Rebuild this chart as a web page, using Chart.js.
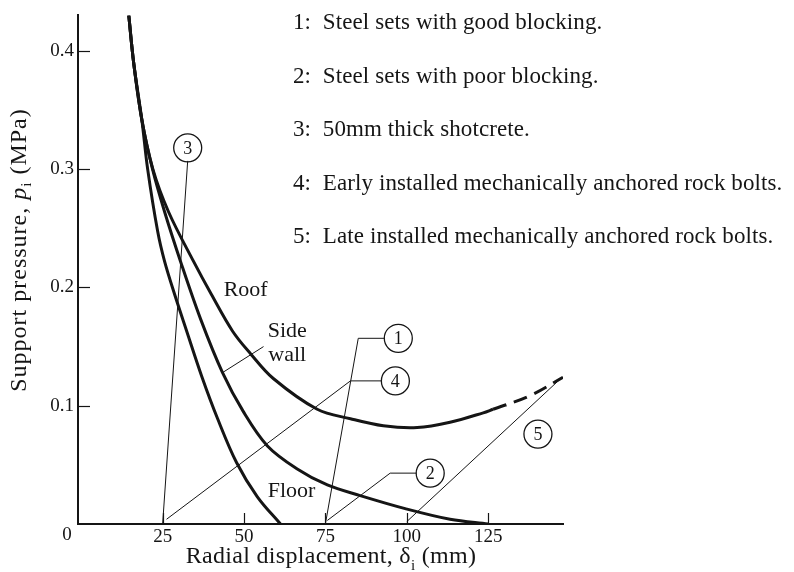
<!DOCTYPE html>
<html>
<head>
<meta charset="utf-8">
<title>Support pressure vs radial displacement</title>
<script src="https://cdn.jsdelivr.net/npm/chart.js@4.4.1/dist/chart.umd.min.js"></script>
<style>
  html, body { margin: 0; padding: 0; background: #fff; }
  #chart { display: block; }
</style>
</head>
<body>
<canvas id="chart" width="794" height="572"></canvas>
<script>
// Ground reaction curves: radial displacement (mm) -> support pressure (MPa)
const roofX = [14.6, 16.1, 18.6, 22.0, 26.8, 34.5, 40.0, 46.5, 52.0, 59.0, 72.5, 82.7, 92.8, 103.2, 113.3, 123.5, 126.5];
const roofY = [0.430, 0.390, 0.342, 0.300, 0.264, 0.222, 0.194, 0.163, 0.144, 0.123, 0.097, 0.089, 0.083, 0.0815, 0.086, 0.094, 0.097];
// extrapolated part of the roof curve (dashed)
const roofExtX = [126.5, 137.5, 148];
const roofExtY = [0.097, 0.108, 0.124];

const sideX = [14.6, 16.1, 18.6, 21.9, 25.6, 30.5, 36.7, 43.4, 49.8, 57.2, 66.1, 75.6, 85.7, 99.5, 113.3, 125.0];
const sideY = [0.430, 0.390, 0.342, 0.300, 0.264, 0.222, 0.173, 0.128, 0.095, 0.066, 0.047, 0.033, 0.024, 0.013, 0.004, 0];

const floorX = [14.6, 16.1, 18.6, 20.4, 23.5, 25.6, 28.7, 32.4, 37.0, 41.9, 47.7, 54.1, 61.2];
const floorY = [0.430, 0.390, 0.342, 0.300, 0.247, 0.222, 0.194, 0.163, 0.125, 0.089, 0.052, 0.023, 0];

// support reaction lines and their leaders to the numbered circles
const support1X = [75, 85.1, 93.1];
const support1Y = [0, 0.157, 0.157];
const support2X = [75.6, 94.9, 102.9];
const support2Y = [0.003, 0.043, 0.043];
const support3X = [25, 32.7];
const support3Y = [0, 0.307];
const support4X = [26.2, 82.7, 92.2];
const support4Y = [0.004, 0.121, 0.121];
const support5X = [100, 147.7];
const support5Y = [0.002, 0.124];

// leader from "Side wall" label to its curve
const sideLeaderX = [56.0, 43.4];
const sideLeaderY = [0.150, 0.128];

const circleLabels = ['1', '2', '3', '4', '5'];
const circleX = [97.4, 107.2, 32.7, 96.5, 140.3];
const circleY = [0.157, 0.043, 0.318, 0.121, 0.076];

const curveLabels = ['Roof', 'Side', 'wall', 'Floor'];
const curveLabelX = [50.5, 63.3, 63.3, 64.6];
const curveLabelY = [0.198, 0.163, 0.143, 0.028];

const xTicks = [25, 50, 75, 100, 125];
const yTicks = [0.1, 0.2, 0.3, 0.4];

const keyLines = [
  '1:  Steel sets with good blocking.',
  '2:  Steel sets with poor blocking.',
  '3:  50mm thick shotcrete.',
  '4:  Early installed mechanically anchored rock bolts.',
  '5:  Late installed mechanically anchored rock bolts.'
];

const ink = '#151515';
const serif = '"Liberation Serif", "DejaVu Serif", serif';

function pts(xs, ys) {
  return xs.map((x, i) => ({ x: x, y: ys[i] }));
}

const curve = { borderColor: ink, borderWidth: 3, pointRadius: 0, showLine: true, tension: 0.35, fill: false };
const thin = { borderColor: ink, borderWidth: 1, pointRadius: 0, showLine: true, tension: 0, fill: false };

// draw a string made of parts (normal / italic / subscript) starting at x
function drawParts(ctx, parts, size, x, y) {
  parts.forEach(p => {
    const fs = p.sub ? Math.round(size * 0.62) : size;
    ctx.font = (p.italic ? 'italic ' : '') + fs + 'px ' + serif;
    ctx.fillText(p.t, x, y + (p.sub ? size * 0.28 : 0));
    x += ctx.measureText(p.t).width;
  });
}
function partsWidth(ctx, parts, size) {
  let w = 0;
  parts.forEach(p => {
    const fs = p.sub ? Math.round(size * 0.62) : size;
    ctx.font = (p.italic ? 'italic ' : '') + fs + 'px ' + serif;
    w += ctx.measureText(p.t).width;
  });
  return w;
}

const yTitle = [{ t: 'Support pressure, ' }, { t: 'p', italic: true }, { t: 'i', sub: true }, { t: ' (MPa)' }];
const xTitle = [{ t: 'Radial displacement, ' }, { t: 'δ' }, { t: 'i', sub: true }, { t: ' (mm)' }];

const overlay = {
  id: 'overlay',
  afterDatasetsDraw(chart) {
    const { ctx, chartArea } = chart;
    const xs = chart.scales.x, ys = chart.scales.y;
    ctx.save();
    ctx.strokeStyle = ink;
    ctx.fillStyle = ink;
    ctx.lineWidth = 1.2;

    // inward tick marks
    xTicks.forEach(v => {
      const px = Math.round(xs.getPixelForValue(v)) + 0.5;
      ctx.beginPath();
      ctx.moveTo(px, chartArea.bottom);
      ctx.lineTo(px, chartArea.bottom - 11);
      ctx.stroke();
    });
    yTicks.forEach(v => {
      const py = Math.round(ys.getPixelForValue(v)) + 0.5;
      ctx.beginPath();
      ctx.moveTo(chartArea.left, py);
      ctx.lineTo(chartArea.left + 12, py);
      ctx.stroke();
    });

    // numbers inside the circles
    const meta = chart.getDatasetMeta(chart.data.datasets.length - 1);
    ctx.font = '18px ' + serif;
    ctx.textAlign = 'center';
    ctx.textBaseline = 'middle';
    meta.data.forEach((pt, i) => ctx.fillText(circleLabels[i], pt.x, pt.y + 1));

    // curve names
    ctx.font = '22px ' + serif;
    curveLabels.forEach((t, i) => {
      ctx.fillText(t, xs.getPixelForValue(curveLabelX[i]), ys.getPixelForValue(curveLabelY[i]));
    });

    // corner zero
    ctx.font = '19px ' + serif;
    ctx.fillText('0', chartArea.left - 11, chartArea.bottom + 11);

    // key
    ctx.textAlign = 'left';
    ctx.font = '23px ' + serif;
    ctx.letterSpacing = '0.1px';
    keyLines.forEach((t, i) => ctx.fillText(t, 293, 23 + i * 53.5));

    // x axis title (alphabetic baseline under the tick labels)
    ctx.textBaseline = 'alphabetic';
    ctx.letterSpacing = '0.3px';
    let w = partsWidth(ctx, xTitle, 24);
    drawParts(ctx, xTitle, 24, 331 - w / 2, 563);

    // y axis title
    ctx.textBaseline = 'middle';
    ctx.letterSpacing = '1px';
    w = partsWidth(ctx, yTitle, 24);
    ctx.translate(20, 250);
    ctx.rotate(-Math.PI / 2);
    drawParts(ctx, yTitle, 24, -w / 2, 0);
    ctx.restore();
  }
};

new Chart(document.getElementById('chart'), {
  type: 'scatter',
  data: {
    datasets: [
      Object.assign({ label: 'Roof', data: pts(roofX, roofY) }, curve),
      Object.assign({ label: 'Roof (extrapolated)', data: pts(roofExtX, roofExtY), borderDash: [14, 8] }, curve),
      Object.assign({ label: 'Side wall', data: pts(sideX, sideY) }, curve),
      Object.assign({ label: 'Floor', data: pts(floorX, floorY) }, curve),
      Object.assign({ label: 'Support 1', data: pts(support1X, support1Y) }, thin),
      Object.assign({ label: 'Support 2', data: pts(support2X, support2Y) }, thin),
      Object.assign({ label: 'Support 3', data: pts(support3X, support3Y) }, thin),
      Object.assign({ label: 'Support 4', data: pts(support4X, support4Y) }, thin),
      Object.assign({ label: 'Support 5', data: pts(support5X, support5Y) }, thin),
      Object.assign({ label: 'Side wall leader', data: pts(sideLeaderX, sideLeaderY) }, thin),
      {
        label: 'Circles',
        data: pts(circleX, circleY),
        showLine: false,
        pointRadius: 14,
        pointHoverRadius: 14,
        pointBackgroundColor: '#fff',
        pointBorderColor: ink,
        pointBorderWidth: 1.3
      }
    ]
  },
  options: {
    responsive: false,
    animation: false,
    events: [],
    layout: { padding: { left: 0, top: 12, right: 231, bottom: 0 } },
    plugins: { legend: { display: false }, tooltip: { enabled: false } },
    scales: {
      x: {
        type: 'linear',
        min: -1,
        max: 148,
        afterBuildTicks: s => { s.ticks = xTicks.map(v => ({ value: v })); },
        afterFit: s => { s.height = 48; },
        grid: { display: false, drawTicks: false },
        border: { display: true, color: ink, width: 2 },
        ticks: { color: ink, padding: 2, font: { family: serif, size: 19 }, maxRotation: 0 }
      },
      y: {
        type: 'linear',
        min: 0,
        max: 0.43,
        afterBuildTicks: s => { s.ticks = yTicks.map(v => ({ value: v })); },
        afterFit: s => { s.width = 78; },
        grid: { display: false, drawTicks: false },
        border: { display: true, color: ink, width: 2 },
        ticks: { color: ink, padding: 4, font: { family: serif, size: 19 }, callback: v => v.toFixed(1) }
      }
    }
  },
  plugins: [overlay]
});
</script>
</body>
</html>
